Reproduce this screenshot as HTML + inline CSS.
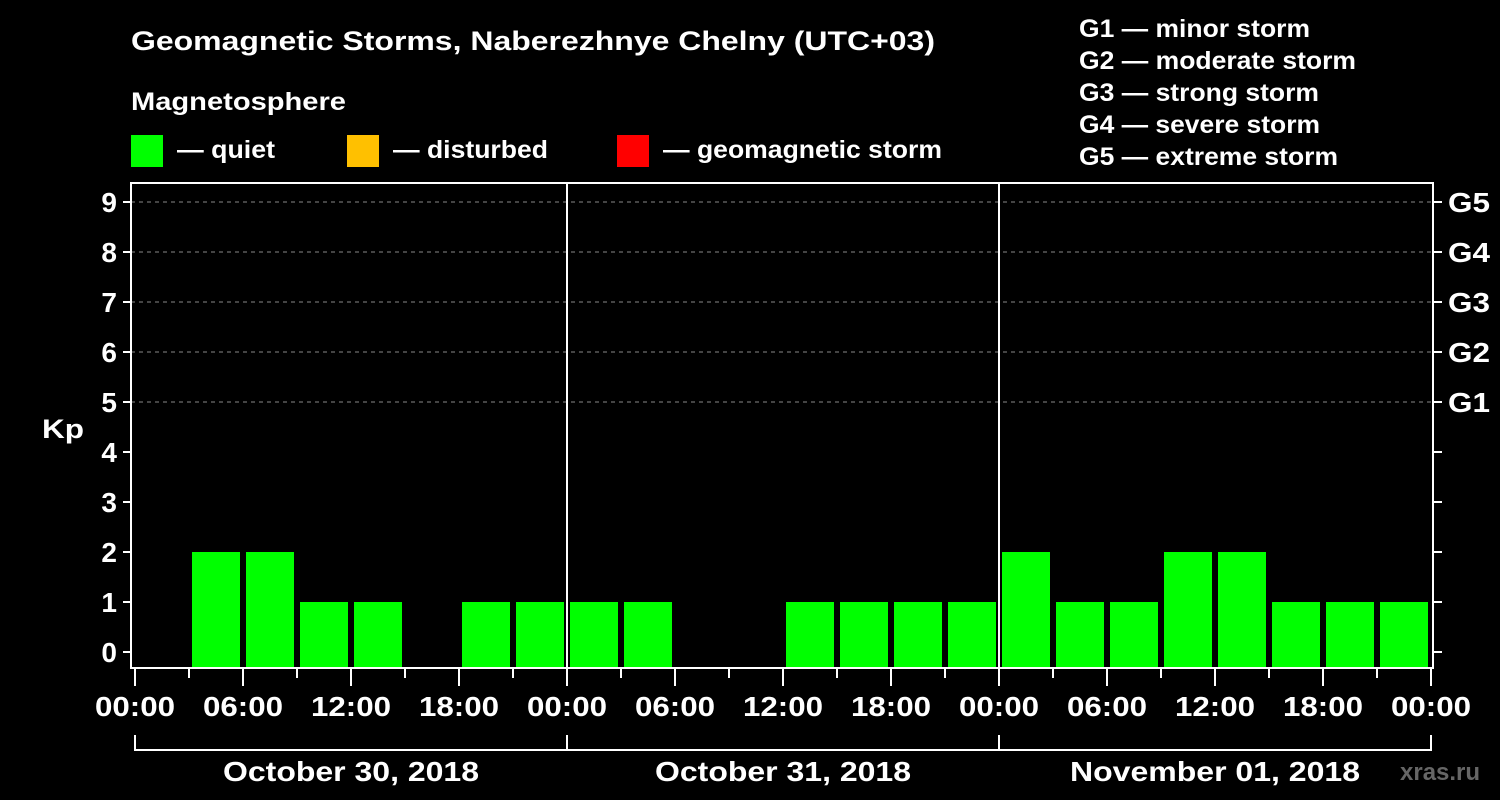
<!DOCTYPE html>
<html><head><meta charset="utf-8"><style>
html,body{margin:0;padding:0;background:#000;width:1500px;height:800px;overflow:hidden}
svg text{font-family:"Liberation Sans",Arial,sans-serif;font-weight:bold;fill:#fff}
</style></head><body>
<svg id="chart" width="1500" height="800" xmlns="http://www.w3.org/2000/svg">
<text x="131" y="50" font-size="27" textLength="804" lengthAdjust="spacingAndGlyphs">Geomagnetic Storms, Naberezhnye Chelny (UTC+03)</text>
<text x="131" y="110" font-size="25" textLength="215" lengthAdjust="spacingAndGlyphs">Magnetosphere</text>
<g><rect x="131" y="135" width="32" height="32" fill="#00ff00"/><text x="177" y="158" font-size="25" textLength="98" lengthAdjust="spacingAndGlyphs">— quiet</text></g>
<g><rect x="347" y="135" width="32" height="32" fill="#ffc000"/><text x="393" y="158" font-size="25" textLength="155" lengthAdjust="spacingAndGlyphs">— disturbed</text></g>
<g><rect x="617" y="135" width="32" height="32" fill="#ff0000"/><text x="663" y="158" font-size="25" textLength="279" lengthAdjust="spacingAndGlyphs">— geomagnetic storm</text></g>
<g font-size="25">
<text x="1079" y="37" textLength="231" lengthAdjust="spacingAndGlyphs">G1 — minor storm</text>
<text x="1079" y="69" textLength="277" lengthAdjust="spacingAndGlyphs">G2 — moderate storm</text>
<text x="1079" y="101" textLength="240" lengthAdjust="spacingAndGlyphs">G3 — strong storm</text>
<text x="1079" y="133" textLength="241" lengthAdjust="spacingAndGlyphs">G4 — severe storm</text>
<text x="1079" y="165" textLength="259" lengthAdjust="spacingAndGlyphs">G5 — extreme storm</text>
</g>
<text x="42" y="438" font-size="27" textLength="42" lengthAdjust="spacingAndGlyphs">Kp</text>
<g id="grid"></g><g id="bars"></g><g id="axes"></g>
<text x="1400" y="780" font-size="24" style="fill:#666">xras.ru</text>
</svg>
<script>
const days = ["October 30, 2018","October 31, 2018","November 01, 2018"];
const kpDay1 = [0,2,2,1,1,0,1,1];
const kpDay2 = [1,1,0,0,1,1,1,1];
const kpDay3 = [2,1,1,2,2,1,1,1];
const yTicks = [0,1,2,3,4,5,6,7,8,9];
const gLabels = ["G1","G2","G3","G4","G5"];
const xTickLabels = ["00:00","06:00","12:00","18:00"];

const NS="http://www.w3.org/2000/svg";
const L=131,R=1433,T=183,B=668,X0=135,DAYW=432;
const yS=v=>652-50*v;
const xS=h=>X0+DAYW*h/24;
function mk(tag,attrs,parent,txt){const e=document.createElementNS(NS,tag);for(const k in attrs)e.setAttribute(k,attrs[k]);if(txt!==undefined)e.textContent=txt;document.getElementById(parent).appendChild(e);return e;}

[5,6,7,8,9].forEach(v=>{
  const l=mk('line',{x1:L,x2:R,y1:yS(v),y2:yS(v),stroke:'#888','stroke-dasharray':'4,4','stroke-width':1},'grid');
  
  
});
const all=[kpDay1,kpDay2,kpDay3];
all.forEach((arr,d)=>arr.forEach((v,i)=>{
  if(v<=0)return;
  const h0=d*24+i*3;
  const x1=xS(h0)+3,x2=xS(h0+3)-3;
  const c=v>=5?'#ff0000':(v>=4?'#ffc000':'#00ff00');
  const r=mk('rect',{x:x1,y:yS(v),width:x2-x1,height:B-1-yS(v),fill:c},'bars');
  
  
}));
const f=mk('rect',{x:L,y:T,width:R-L,height:B-T,fill:'none',stroke:'#fff','stroke-width':2},'axes');


[1,2].forEach(d=>{
  const l=mk('line',{x1:xS(d*24),x2:xS(d*24),y1:T,y2:B,stroke:'#fff','stroke-width':2},'axes');
  
  
});
yTicks.forEach(v=>{
  mk('line',{x1:L-8,x2:L,y1:yS(v),y2:yS(v),stroke:'#fff','stroke-width':2},'axes');
  mk('line',{x1:R,x2:R+9,y1:yS(v),y2:yS(v),stroke:'#fff','stroke-width':2},'axes');
  const t=mk('text',{x:L-14,y:yS(v)+10,'font-size':28,'text-anchor':'end'},'axes',String(v));
  
  
});
gLabels.forEach((g,i)=>{
  const t=mk('text',{x:1448,y:yS(5+i)+10,'font-size':28,textLength:42,lengthAdjust:'spacingAndGlyphs'},'axes',g);
  
  
});
for(let h=0;h<=72;h+=3){
  const major=h%6===0;
  mk('line',{x1:xS(h),x2:xS(h),y1:B,y2:B+(major?18:10),stroke:'#fff','stroke-width':2},'axes');
  if(major){
    const t=mk('text',{x:xS(h),y:716,'font-size':28,'text-anchor':'middle',textLength:80,lengthAdjust:'spacingAndGlyphs'},'axes',xTickLabels[(h/6)%4]);
    
    
  }
}
days.forEach((d,i)=>{
  const a=xS(i*24),b=xS(i*24+24);
  mk('path',{d:`M${a},735 V750 H${b} V735`,stroke:'#fff','stroke-width':2,fill:'none'},'axes');
  const len=i===2?290:256;
  const t=mk('text',{x:(a+b)/2,y:781,'font-size':28,'text-anchor':'middle',textLength:len,lengthAdjust:'spacingAndGlyphs'},'axes',d);
  
  
});
</script>
</body></html>
